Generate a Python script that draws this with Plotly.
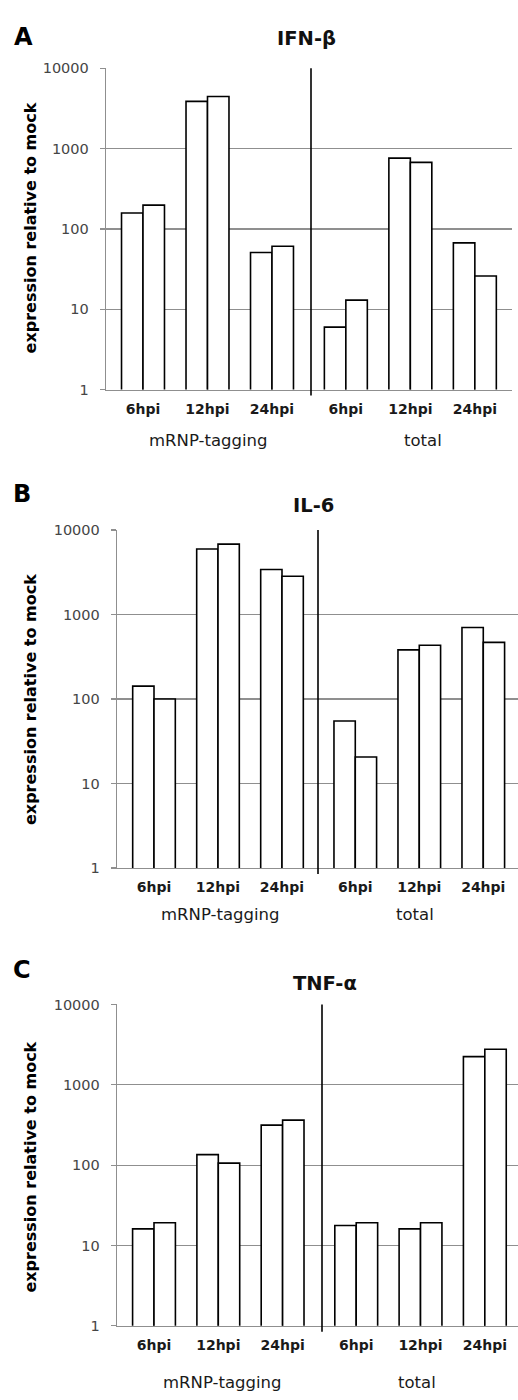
import plotly.graph_objects as go

# ---------------- data ----------------
time_labels = ["6hpi", "12hpi", "24hpi", "6hpi", "12hpi", "24hpi"]
group_labels = ["mRNP-tagging", "total"]
y_tick_vals = [1, 10, 100, 1000, 10000]
y_tick_text = ["1", "10", "100", "1000", "10000"]

panel_letters = ["A", "B", "C"]
panel_titles = ["IFN-β", "IL-6", "TNF-α"]

ifnb_rep1 = [158, 3870, 51, 6.0, 762, 67]
ifnb_rep2 = [198, 4460, 61, 13, 675, 26]

il6_rep1 = [142, 5950, 3400, 55, 381, 701]
il6_rep2 = [100, 6800, 2840, 20.6, 432, 468]

tnfa_rep1 = [16.1, 135, 315, 17.7, 16.1, 2245]
tnfa_rep2 = [19.2, 106, 363, 19.2, 19.2, 2770]

series = [(ifnb_rep1, ifnb_rep2), (il6_rep1, il6_rep2), (tnfa_rep1, tnfa_rep2)]

# ---------------- layout geometry (pixels) ----------------
W, H = 518, 1400
panels_px = [
    dict(l=106, r=512, t=61, b=386, first=143, step=64.5, div=311,
         letter=(23, 29), title=(306, 31), grp_y=437, grp_x=(208, 423), ytitle=(30, 223)),
    dict(l=117, r=518, t=528, b=870, first=154, step=64.0, div=318,
         letter=(22, 492), title=(313, 503), grp_y=917, grp_x=(220, 415), ytitle=(30, 700)),
    dict(l=117, r=518, t=1008, b=1333, first=154, step=64.3, div=322,
         letter=(22, 973), title=(325, 987), grp_y=1390, grp_x=(222, 417), ytitle=(31, 1173)),
]
GAP = 0.145
BAR_W = 0.333

def px_x(x):
    return x / W

def px_y(y):
    return 1 - y / H

FONT = "DejaVu Sans"
GRID = "#8f8f8f"

fig = go.Figure()
annotations = []
shapes = []

for i, p in enumerate(panels_px):
    xa = "x" if i == 0 else f"x{i+1}"
    ya = "y" if i == 0 else f"y{i+1}"
    xkey = "xaxis" if i == 0 else f"xaxis{i+1}"
    ykey = "yaxis" if i == 0 else f"yaxis{i+1}"

    positions = [k if k < 3 else k + GAP for k in range(len(time_labels))]
    rng = [(p["l"] - p["first"]) / p["step"], (p["r"] - p["first"]) / p["step"]]
    div_x = (p["div"] - p["first"]) / p["step"]

    rep1, rep2 = series[i]
    for vals, off in ((rep1, -BAR_W), (rep2, 0.0)):
        fig.add_trace(go.Bar(
            x=positions, y=vals, width=BAR_W, offset=off,
            marker=dict(color="white", line=dict(color="black", width=1.6)),
            xaxis=xa, yaxis=ya, showlegend=False, hoverinfo="x+y",
        ))

    fig.layout[xkey] = dict(
        domain=[px_x(p["l"]), px_x(p["r"])], range=rng, anchor=ya,
        tickmode="array", tickvals=positions, ticktext=time_labels,
        ticks="", showgrid=False, zeroline=False,
        showline=True, linecolor=GRID, linewidth=1.3,
        tickfont=dict(family=FONT, size=14, color="#1a1a1a", weight="bold"),
        ticklabelstandoff=6, fixedrange=True,
    )
    fig.layout[ykey] = dict(
        domain=[px_y(p["b"]), px_y(p["t"])], type="log", range=[0, 4], anchor=xa,
        tickmode="array", tickvals=y_tick_vals, ticktext=y_tick_text,
        ticks="outside", ticklen=5, tickcolor=GRID, tickwidth=1.2,
        showgrid=True, gridcolor=GRID, gridwidth=1.2,
        showline=True, linecolor=GRID, linewidth=1.3, zeroline=False,
        tickfont=dict(family=FONT, size=14.5, color="#454545"),
        ticklabelstandoff=8, fixedrange=True,
    )

    shapes.append(dict(type="line", xref=xa, yref="paper",
                       x0=div_x, x1=div_x, y0=px_y(p["b"] + 6), y1=px_y(p["t"]),
                       line=dict(color="black", width=1.6)))

    annotations.append(dict(text=f"<b>{panel_letters[i]}</b>", xref="paper", yref="paper",
                            x=px_x(p["letter"][0]), y=px_y(p["letter"][1]),
                            xanchor="center", yanchor="middle", showarrow=False,
                            font=dict(family=FONT, size=24, color="black")))
    annotations.append(dict(text=f"<b>{panel_titles[i]}</b>", xref="paper", yref="paper",
                            x=px_x(p["title"][0]), y=px_y(p["title"][1]),
                            xanchor="center", yanchor="middle", showarrow=False,
                            font=dict(family=FONT, size=19.5, color="#111111")))
    for gl, gx in zip(group_labels, p["grp_x"]):
        annotations.append(dict(text=gl, xref="paper", yref="paper",
                                x=px_x(gx), y=px_y(p["grp_y"]),
                                xanchor="center", yanchor="middle", showarrow=False,
                                font=dict(family=FONT, size=16.5, color="#1a1a1a")))
    annotations.append(dict(text="<b>expression relative to mock</b>", xref="paper", yref="paper",
                            x=px_x(p["ytitle"][0]), y=px_y(p["ytitle"][1]),
                            xanchor="center", yanchor="middle", textangle=-90, showarrow=False,
                            font=dict(family=FONT, size=16, color="black")))

fig.update_layout(
    width=W, height=H, margin=dict(l=0, r=0, t=0, b=0),
    paper_bgcolor="white", plot_bgcolor="white",
    barmode="overlay", showlegend=False,
    annotations=annotations, shapes=shapes,
)

fig.write_html(
    "out.html",
    config={"displayModeBar": False, "staticPlot": True},
    post_script="document.body.style.margin='0';document.body.style.padding='0';document.body.style.overflow='hidden';",
)
